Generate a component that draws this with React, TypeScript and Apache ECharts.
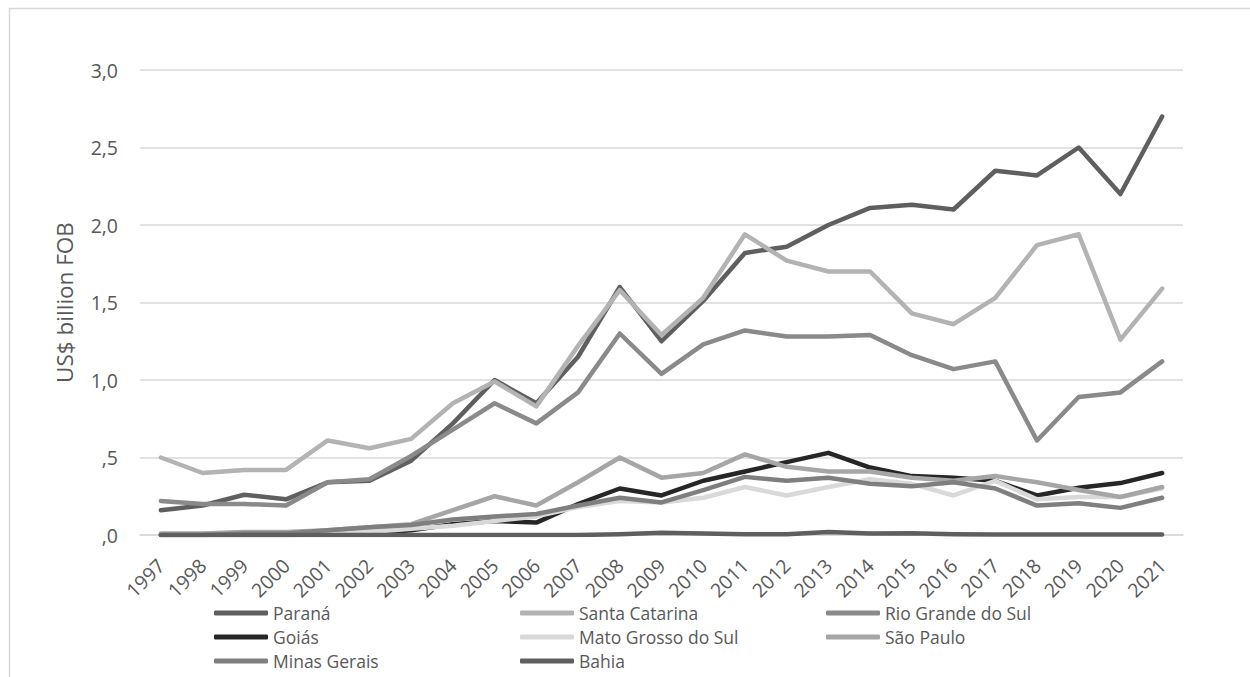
import React, { useEffect, useRef } from "react";
import * as echarts from "echarts";

const years = ["1997","1998","1999","2000","2001","2002","2003","2004","2005","2006","2007","2008","2009","2010","2011","2012","2013","2014","2015","2016","2017","2018","2019","2020","2021"];

const parana = [0.16,0.19,0.26,0.23,0.34,0.35,0.48,0.72,1.00,0.85,1.15,1.60,1.25,1.51,1.82,1.86,2.00,2.11,2.13,2.10,2.35,2.32,2.50,2.20,2.70];
const santaCatarina = [0.50,0.40,0.42,0.42,0.61,0.56,0.62,0.85,0.99,0.83,1.22,1.58,1.29,1.53,1.94,1.77,1.70,1.70,1.43,1.36,1.53,1.87,1.94,1.26,1.59];
const rioGrandeDoSul = [0.22,0.20,0.20,0.19,0.34,0.36,0.51,0.68,0.85,0.72,0.92,1.30,1.04,1.23,1.32,1.28,1.28,1.29,1.16,1.07,1.12,0.61,0.89,0.92,1.12];
const goias = [0.0,0.0,0.0,0.0,0.005,0.01,0.03,0.07,0.09,0.08,0.20,0.30,0.255,0.35,0.41,0.47,0.53,0.435,0.38,0.37,0.35,0.255,0.305,0.335,0.40];
const matoGrossoDoSul = [0.0,0.0,0.0,0.005,0.01,0.02,0.04,0.06,0.09,0.12,0.18,0.22,0.21,0.24,0.31,0.255,0.31,0.36,0.33,0.255,0.35,0.23,0.245,0.245,0.30];
const saoPaulo = [0.01,0.01,0.02,0.02,0.03,0.05,0.07,0.16,0.25,0.19,0.34,0.50,0.37,0.40,0.52,0.44,0.41,0.41,0.37,0.35,0.38,0.34,0.29,0.245,0.31];
const minasGerais = [0.0,0.0,0.01,0.01,0.03,0.05,0.065,0.10,0.12,0.135,0.19,0.24,0.21,0.29,0.375,0.35,0.37,0.33,0.315,0.34,0.30,0.19,0.205,0.175,0.24];
const bahia = [0.0,0.0,0.0,0.0,0.0,0.0,0.0,0.0,0.0,0.0,0.0,0.005,0.015,0.01,0.005,0.005,0.02,0.01,0.012,0.005,0.003,0.003,0.003,0.003,0.003];

const seriesDefs = [
  { name: "Paraná", data: parana, color: "#5f5f5f" },
  { name: "Santa Catarina", data: santaCatarina, color: "#b3b3b3" },
  { name: "Rio Grande do Sul", data: rioGrandeDoSul, color: "#8a8a8a" },
  { name: "Goiás", data: goias, color: "#262626" },
  { name: "Mato Grosso do Sul", data: matoGrossoDoSul, color: "#d9d9d9" },
  { name: "São Paulo", data: saoPaulo, color: "#a6a6a6" },
  { name: "Minas Gerais", data: minasGerais, color: "#7f7f7f" },
  { name: "Bahia", data: bahia, color: "#5f5f5f" },
];

const legendRows = [
  ["Paraná", "Santa Catarina", "Rio Grande do Sul"],
  ["Goiás", "Mato Grosso do Sul", "São Paulo"],
  ["Minas Gerais", "Bahia"],
];

const FONT = "'Open Sans', sans-serif";
const TEXT = "#595959";

export default function App() {
  const ref = useRef<HTMLDivElement>(null);
  useEffect(() => {
    if (!ref.current) return;
    const chart = echarts.init(ref.current, null, { renderer: "svg" });
    const rowTops = [601, 625, 649];
    chart.setOption({
      animation: false,
      backgroundColor: "#ffffff",
      textStyle: { fontFamily: FONT },
      graphic: [
        {
          type: "rect",
          left: 7,
          top: 6,
          shape: { width: 1300, height: 720 },
          style: { fill: "none", stroke: "#d9d9d9", lineWidth: 1.5 },
          silent: true,
        },
      ],
      grid: { left: 140, right: 67, top: 70, bottom: 142 },
      legend: legendRows.map((row, i) => ({
        data: row,
        left: 214,
        top: rowTops[i],
        padding: 0,
        orient: "horizontal",
        itemWidth: 54,
        itemHeight: 5,
        itemGap: 0,
        icon: "roundRect",
        textStyle: {
          fontFamily: FONT,
          fontSize: 17.5,
          color: TEXT,
          width: 247,
          lineHeight: 24,
        },
      })),
      xAxis: {
        type: "category",
        data: years,
        boundaryGap: true,
        axisLine: { show: true, lineStyle: { color: "#d9d9d9", width: 1.5 } },
        axisTick: { show: false },
        axisLabel: {
          rotate: 45,
          interval: 0,
          margin: 27,
          fontFamily: FONT,
          fontSize: 19.5,
          color: TEXT,
        },
      },
      yAxis: {
        type: "value",
        min: 0,
        max: 3,
        interval: 0.5,
        name: "US$ billion FOB",
        nameLocation: "middle",
        nameGap: 64,
        nameRotate: 90,
        nameTextStyle: { fontFamily: FONT, fontSize: 22.5, color: TEXT },
        axisLine: { show: false },
        axisTick: { show: false },
        splitLine: { lineStyle: { color: "#d9d9d9", width: 1.5 } },
        axisLabel: {
          margin: 22,
          fontFamily: FONT,
          fontSize: 19.5,
          color: TEXT,
          formatter: (v: number) => {
            const s = v.toFixed(1).replace(".", ",");
            return s.startsWith("0") ? s.slice(1) : s;
          },
        },
      },
      series: seriesDefs.map((s) => ({
        name: s.name,
        type: "line",
        data: s.data,
        symbol: "none",
        color: s.color,
        lineStyle: { color: s.color, width: 4.5, cap: "round", join: "round" },
        itemStyle: { color: s.color },
      })),
    });
    return () => chart.dispose();
  }, []);
  return (
    <div
      ref={ref}
      style={{ position: "absolute", left: 0, top: 0, width: 1250, height: 677 }}
    />
  );
}
